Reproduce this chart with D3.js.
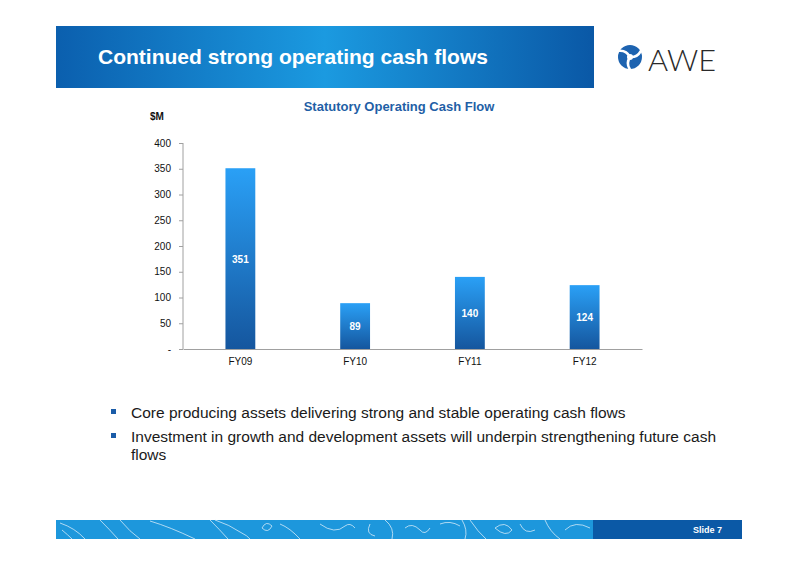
<!DOCTYPE html>
<html><head><meta charset="utf-8">
<script src="https://cdn.jsdelivr.net/npm/d3@7"></script>
<style>body{margin:0;background:#fff;}svg{display:block;font-family:"Liberation Sans",Arial,sans-serif;}</style>
</head><body>
<script>
const categories = ["FY09","FY10","FY11","FY12"];
const values = [351, 89, 140, 124];
const yTicks = [0,50,100,150,200,250,300,350,400];
const yTickLabels = ["-","50","100","150","200","250","300","350","400"];
const bullets = [
  ["Core producing assets delivering strong and stable operating cash flows"],
  ["Investment in growth and development assets will underpin strengthening future cash","flows"]
];

const W = 800, H = 565;
const svg = d3.select("body").append("svg").attr("width", W).attr("height", H);
const defs = svg.append("defs");

// header gradient
const hg = defs.append("linearGradient").attr("id","hg").attr("x1","0").attr("x2","1").attr("y1","0").attr("y2","0");
hg.append("stop").attr("offset","0").attr("stop-color","#0b5fae");
hg.append("stop").attr("offset","0.5").attr("stop-color","#1b9ae0");
hg.append("stop").attr("offset","1").attr("stop-color","#0a58a6");
svg.append("rect").attr("x",56).attr("y",26).attr("width",538).attr("height",62).attr("fill","url(#hg)");
svg.append("text").attr("x",98).attr("y",64).attr("fill","#fff").attr("font-size",21).attr("font-weight","bold")
  .attr("textLength",390).attr("lengthAdjust","spacingAndGlyphs")
  .text("Continued strong operating cash flows");

// logo
const logo = svg.append("g").attr("transform","translate(630,57)");
logo.append("circle").attr("r",12).attr("fill","#1d63b0");
for (let i=0;i<3;i++){
  logo.append("path").attr("d","M0,0 Q7,-2 8,-9 Q9,-12 14,-13")
    .attr("fill","none").attr("stroke","#fff").attr("stroke-width",2.6)
    .attr("transform",`rotate(${i*120+20})`);
}
logo.append("circle").attr("r",3).attr("fill","#fff");
svg.append("text").attr("x",648).attr("y",71).attr("font-size",30).attr("font-weight","300")
  .attr("fill","#2a2a2a").attr("font-family","Lato, 'Open Sans', sans-serif")
  .attr("textLength",68).attr("lengthAdjust","spacingAndGlyphs").text("AWE");

// chart title
svg.append("text").attr("x",399).attr("y",111).attr("text-anchor","middle").attr("font-size",13)
  .attr("font-weight","bold").attr("fill","#1f5fa6").text("Statutory Operating Cash Flow");
svg.append("text").attr("x",150).attr("y",120).attr("font-size",10).attr("font-weight","bold")
  .attr("fill","#111").text("$M");

// scales
const x = d3.scaleBand().domain(categories).range([183,642]).paddingInner(0.74).paddingOuter(0.37);
const y = d3.scaleLinear().domain([0,400]).range([349,143]);

// bar gradient
const bg = defs.append("linearGradient").attr("id","bg").attr("x1","0").attr("x2","0").attr("y1","0").attr("y2","1");
bg.append("stop").attr("offset","0").attr("stop-color","#2aa0f6");
bg.append("stop").attr("offset","1").attr("stop-color","#15569e");

// axes
const yAxis = d3.axisLeft(y).tickValues(yTicks).tickSize(4).tickFormat((d,i)=>yTickLabels[i]);
const gy = svg.append("g").attr("transform","translate(183,0)").call(yAxis);
gy.selectAll("path,line").attr("stroke","#a0a0a0");
gy.select(".domain").attr("d","M0,143V349");
gy.selectAll("text").attr("font-size",10).attr("fill","#111").attr("x",-12)
  .attr("font-family","'Liberation Sans',Arial,sans-serif");

const xAxis = d3.axisBottom(x).tickSize(0).tickPadding(9);
const gx = svg.append("g").attr("transform","translate(0,349)").call(xAxis);
gx.select(".domain").attr("stroke","#a0a0a0").attr("stroke-width",1.2);
gx.selectAll("text").attr("font-size",10).attr("fill","#111")
  .attr("font-family","'Liberation Sans',Arial,sans-serif");

// bars
svg.selectAll("rect.bar").data(values).enter().append("rect").attr("class","bar")
  .attr("x",(d,i)=>x(categories[i])).attr("width",x.bandwidth())
  .attr("y",d=>y(d)).attr("height",d=>y(0)-y(d)).attr("fill","url(#bg)");
svg.selectAll("text.lbl").data(values).enter().append("text").attr("class","lbl")
  .attr("x",(d,i)=>x(categories[i])+x.bandwidth()/2).attr("y",d=>(y(d)+y(0))/2+4)
  .attr("text-anchor","middle").attr("font-size",10).attr("font-weight","bold").attr("fill","#fff")
  .text(d=>d);

// bullets
let ly = 418;
bullets.forEach(lines=>{
  svg.append("rect").attr("x",111).attr("y",ly-9).attr("width",5).attr("height",5).attr("fill","#1a5ca8");
  lines.forEach((t,j)=>{
    svg.append("text").attr("x",131).attr("y",ly).attr("font-size",15.5).attr("fill","#1a1a1a").text(t);
    ly += j < lines.length-1 ? 18 : 0;
  });
  ly += 24;
});

// footer
svg.append("rect").attr("x",56).attr("y",520).attr("width",538).attr("height",19).attr("fill","#1d97dc");
svg.append("rect").attr("x",593).attr("y",520).attr("width",149).attr("height",19).attr("fill","#0b59a6");
const fl = svg.append("g").attr("fill","none").attr("stroke","#e8f4fc").attr("stroke-width",0.8).attr("opacity",0.9);
const contours = [
  "M60,523 Q75,528 85,539","M62,530 Q68,535 72,539","M100,520 Q110,530 118,539","M120,520 Q130,532 140,539",
  "M150,521 Q170,527 195,539","M210,520 Q220,530 228,539","M215,520 Q230,525 240,532 Q248,536 250,539",
  "M262,528 Q266,520 272,526 Q268,534 262,528","M280,524 Q290,528 300,539","M320,524 Q335,535 345,526 Q350,522 355,528",
  "M370,524 Q365,534 375,536","M385,520 Q395,528 392,539","M405,528 Q412,522 420,530 Q425,536 430,528",
  "M440,524 Q450,520 460,526","M462,520 Q468,530 465,539","M470,520 Q478,532 486,539","M495,528 Q505,520 512,530 Q506,538 495,528",
  "M520,524 Q525,535 535,530","M545,520 Q550,532 560,539","M565,530 Q575,520 590,528"
];
contours.forEach(d=>fl.append("path").attr("d",d));
svg.append("text").attr("x",722).attr("y",533).attr("text-anchor","end").attr("font-size",9)
  .attr("font-weight","bold").attr("fill","#fff").text("Slide 7");
</script>
</body></html>
